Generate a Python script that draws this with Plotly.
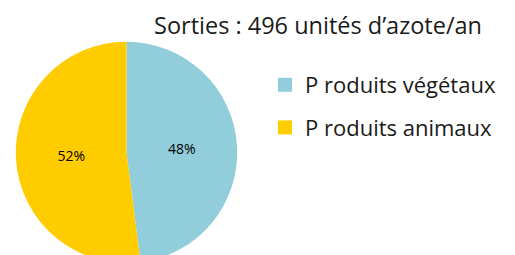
import plotly.graph_objects as go

labels = ["P roduits végétaux", "P roduits animaux"]
values = [238, 258]
colors = ["#92CDDC", "#FFCC00"]
title_text = "Sorties : 496 unités d’azote/an"

W, H = 515, 270

fig = go.Figure(go.Pie(
    labels=labels,
    values=values,
    marker=dict(colors=colors, line=dict(width=0)),
    sort=False,
    direction="clockwise",
    rotation=0,
    texttemplate="%{percent:.0%}",
    textposition="inside",
    insidetextorientation="horizontal",
    textfont=dict(family="Open Sans", size=14, color="#000000"),
    hoverinfo="label+percent",
    showlegend=False,
    domain=dict(x=[(126.5 - 110.7) / W, (126.5 + 110.7) / W],
                y=[(H - 263.1) / H, (H - 41.7) / H]),
))

# legend entries (one group each so the gap between them can be set)
for lab, col in zip(labels, colors):
    fig.add_trace(go.Scatter(
        x=[None], y=[None], mode="markers", name=lab, legendgroup=lab,
        marker=dict(symbol="square", size=14, color=col, line=dict(width=0)),
        showlegend=True, hoverinfo="skip",
    ))

fig.update_layout(
    width=W, height=H,
    margin=dict(l=0, r=0, t=0, b=0),
    paper_bgcolor="white",
    plot_bgcolor="white",
    xaxis=dict(visible=False),
    yaxis=dict(visible=False),
    showlegend=True,
    legend=dict(
        x=265 / W, xanchor="left",
        y=1 - 64 / H, yanchor="top",
        font=dict(family="Open Sans", size=22, color="#1a1a1a"),
        traceorder="grouped",
        tracegroupgap=11,
        itemwidth=30,
        bgcolor="rgba(0,0,0,0)",
    ),
    annotations=[dict(
        text=title_text, x=484 / W, y=1 - 25 / H, xref="paper", yref="paper",
        xanchor="right", yanchor="middle", showarrow=False,
        font=dict(family="Open Sans", size=23.5, color="#1a1a1a"),
    )],
)

fig.write_html("out.html", config={"displayModeBar": False},
               post_script="document.documentElement.style.overflow='hidden';document.body.style.overflow='hidden';document.body.style.margin='0';")
